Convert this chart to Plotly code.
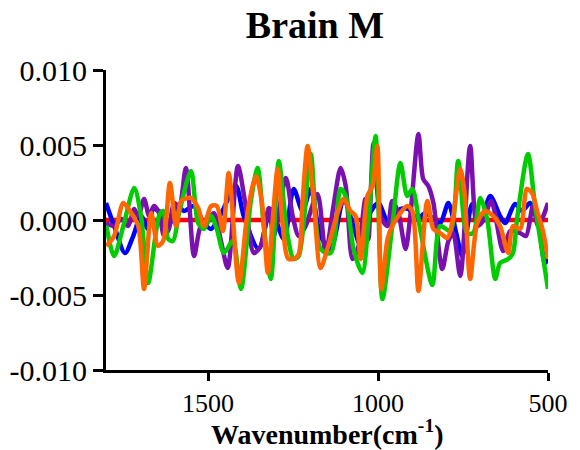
import plotly.graph_objects as go

# Difference spectra, Brain M
wn_blue = [1800, 1776, 1744, 1720, 1697, 1676, 1661, 1638, 1617, 1588, 1571, 1541, 1512, 1491,
           1462, 1418, 1395, 1351, 1315, 1277, 1248, 1222, 1198, 1169, 1139, 1101, 1075, 1051,
           1028, 999, 969, 934, 911, 884, 861, 837, 817, 793, 770, 752, 723, 699, 670, 641,
           626, 597, 576, 553, 529, 509, 500]
ab_blue = [0.00113, -0.0004, -0.0022, -0.00107, 0.00027, -0.0006, 0.00073, 0.00047, -0.0004,
           0.00093, 0.0006, 0.00093, -0.0002, -0.0006, 0.0004, 0.00227, 0.00027, -0.00193,
           0.00073, -0.00127, 0.00207, 0.0006, 0.00207, -0.00107, -0.00193, 0.0014, -0.0002,
           -0.00173, 0.00027, 0.00113, -0.0002, 0.00073, 0.00073, 0.00007, 0.00047, 0.00007,
           -0.0002, 0.00113, -0.00087, -0.0024, 0.00107, -0.0002, 0.0016, 0.00027, -0.0002,
           0.00107, 0.0006, 0.00113, -0.0002, -0.00287, -0.0026]

wn_purple = [1800, 1776, 1755, 1735, 1717, 1705, 1688, 1673, 1659, 1644, 1629, 1615, 1600, 1585,
             1565, 1541, 1521, 1503, 1483, 1462, 1442, 1412, 1389, 1365, 1345, 1321, 1307, 1271,
             1251, 1233, 1213, 1178, 1154, 1131, 1110, 1095, 1075, 1057, 1037, 1028, 1013, 993,
             972, 958, 940, 919, 905, 881, 867, 852, 837, 811, 793, 779, 758, 729, 708, 691,
             667, 632, 611, 582, 565, 544, 529, 500]
ab_purple = [-0.0002, -0.0004, 0.00007, -0.0004, 0.00073, 0.00027, 0.0014, 0.00027, 0.00093,
             0.00047, -0.00107, -0.0006, 0.00113, 0.00093, 0.00347, -0.0024, -0.0004, -0.0002,
             0.00047, -0.0014, -0.0032, 0.0036, 0.00093, -0.0022, -0.00173, 0.0008, -0.00107,
             0.0028, 0.00027, -0.00107, -0.0004, 0.00173, -0.0022, 0.00093, 0.00347, 0.00227,
             -0.0026, -0.00173, 0.0014, -0.00127, 0.00513, 0.00027, -0.0004, 0.00127, 0.00047,
             -0.00193, 0.00027, 0.00573, 0.00273, 0.00227, 0.00113, -0.00327, -0.0014, -0.00087,
             -0.00373, 0.00493, -0.0004, -0.00007, 0.00127, -0.00207, -0.00073, -0.00087,
             -0.00107, 0.00093, -0.0004, 0.00113]

wn_green = [1799, 1776, 1749, 1717, 1697, 1676, 1644, 1632, 1617, 1603, 1585, 1550, 1529, 1512,
            1491, 1474, 1453, 1427, 1403, 1374, 1354, 1336, 1315, 1292, 1268, 1248, 1233, 1198,
            1169, 1139, 1110, 1095, 1072, 1046, 1028, 1007, 987, 958, 934, 914, 899, 875, 840,
            817, 787, 764, 738, 720, 699, 679, 655, 641, 617, 603, 591, 559, 538, 500]
ab_green = [-0.0004, -0.0024, -0.0004, 0.00213, 0.00027, -0.0042, 0.00027, 0.0006, -0.00127,
            -0.0014, 0.00047, 0.00327, -0.0002, -0.0006, 0.00027, -0.0006, -0.0022, -0.0014,
            -0.0046, 0.00127, 0.00347, -0.0004, -0.00393, 0.00393, -0.00073, -0.0026, -0.0024,
            0.0044, -0.00193, -0.0022, 0.00207, 0.0016, -0.00193, -0.00353, -0.00007, 0.0056,
            -0.00527, -0.0004, 0.0038, 0.0016, 0.00207, -0.00073, -0.00433, -0.0004, -0.00073,
            0.00393, -0.00087, -0.00087, 0.00147, 0.00007, -0.00393, -0.00287, -0.0026,
            -0.0022, 0.00007, 0.0044, 0.00093, -0.0046]

wn_orange = [1799, 1776, 1749, 1726, 1705, 1688, 1667, 1647, 1632, 1612, 1594, 1579, 1550, 1529,
             1512, 1491, 1474, 1456, 1439, 1409, 1383, 1359, 1342, 1324, 1310, 1295, 1280, 1263,
             1236, 1222, 1207, 1189, 1169, 1148, 1119, 1101, 1081, 1066, 1051, 1031, 1016, 1002,
             990, 972, 958, 934, 914, 899, 881, 855, 837, 817, 796, 782, 758, 746, 729, 708,
             685, 661, 641, 617, 603, 582, 562, 547, 532, 515, 500]
ab_orange = [-0.00173, -0.00107, 0.00113, 0.00047, -0.0004, -0.0046, 0.00047, -0.00173, -0.0014,
             0.00247, -0.0004, 0.00127, 0.00147, 0.0008, -0.0004, 0.00093, 0.00093, -0.00073,
             0.00313, -0.0042, 0.0006, 0.00293, 0.00127, -0.00353, -0.00007, 0.0034, -0.0004,
             -0.0026, -0.0024, 0.00127, 0.00493, 0.00127, -0.0032, -0.00187, 0.00047, 0.0014,
             0.0006, 0.00027, -0.0026, 0.0016, 0.00227, 0.00493, -0.0046, -0.00127, -0.0004,
             0.00047, 0.00093, 0.0006, -0.00473, 0.00127, -0.0006, -0.00087, -0.0012, -0.0002,
             0.0034, 0.00193, -0.00393, -0.0002, 0.0006, 0.00027, -0.0004, -0.0022, -0.0004,
             -0.0006, 0.00207, 0.0018, 0.0006, -0.00073, -0.0026]

wn_red = [1800, 500]
ab_red = [0.0, 0.0]

x_ticks = [1500, 1000, 500]
y_ticks = [-0.010, -0.005, 0.000, 0.005, 0.010]
y_tick_labels = ["-0.010", "-0.005", "0.000", "0.005", "0.010"]

series = [
    (wn_red, ab_red, "#FF0000"),
    (wn_blue, ab_blue, "#0000FF"),
    (wn_purple, ab_purple, "#7B10B0"),
    (wn_green, ab_green, "#00CC00"),
    (wn_orange, ab_orange, "#FF6600"),
]

fig = go.Figure()
for wn, ab, color in series:
    fig.add_trace(go.Scatter(
        x=wn, y=ab, mode="lines",
        line=dict(color=color, width=4.5, shape="spline", smoothing=0.8),
        showlegend=False, hoverinfo="skip",
    ))

SERIF = "Times New Roman"
fig.update_layout(
    width=580, height=450,
    margin=dict(l=106, r=32, t=70, b=80),
    paper_bgcolor="white", plot_bgcolor="white",
    title=dict(text="<b>Brain M</b>", x=0.543, xanchor="center", xref="container",
               y=0.945, yanchor="middle", yref="container",
               font=dict(family=SERIF, size=38, color="black")),
)
# x-axis title placed below the tick labels
fig.add_annotation(
    text="<b>Wavenumber(cm<sup>-1</sup>)</b>", xref="paper", yref="paper",
    x=0.5, y=-0.207, xanchor="center", yanchor="middle", showarrow=False,
    font=dict(family=SERIF, size=28, color="black"),
)
fig.update_xaxes(
    range=[1800, 500], tickvals=x_ticks, ticktext=[str(v) for v in x_ticks],
    showline=True, linecolor="black", linewidth=3, mirror=False,
    ticks="outside", ticklen=8, tickwidth=3, tickcolor="black",
    showgrid=False, zeroline=False, automargin=False,
    tickfont=dict(family=SERIF, size=26, color="black"),
)
fig.update_yaxes(
    range=[-0.010, 0.010], tickvals=y_ticks, ticktext=y_tick_labels,
    showline=True, linecolor="black", linewidth=3, mirror=False,
    ticks="outside", ticklen=10, tickwidth=3, tickcolor="black",
    showgrid=False, zeroline=False, automargin=False,
    tickfont=dict(family=SERIF, size=30, color="black"),
)

fig.write_html("out.html")
